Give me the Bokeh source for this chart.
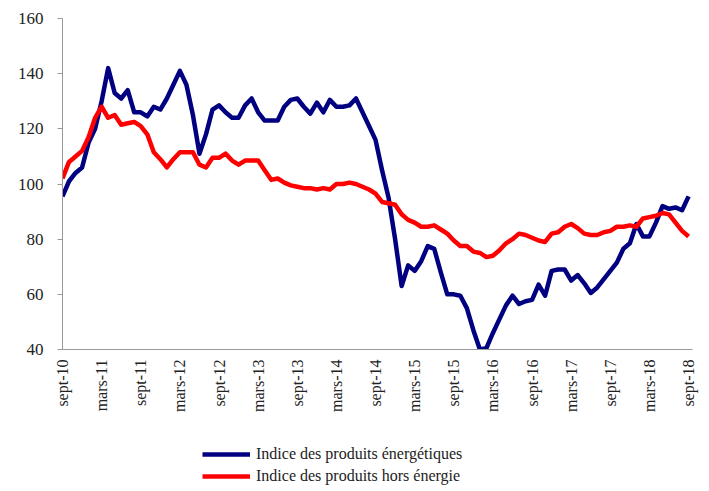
import math
from bokeh.plotting import figure
from bokeh.models import Range1d, FixedTicker, Legend, LegendItem
from bokeh.layouts import column
from bokeh.embed import file_html
from bokeh.resources import INLINE

# Monthly observations, sept-10 .. sept-18
energie = [95.5, 101, 104, 106, 115, 120, 130, 142, 133, 131, 134, 126, 126, 124.5, 128, 127,
           131, 136, 141, 136, 125, 111, 118, 127, 128.5, 126, 124, 124, 128.5, 131, 126, 123,
           123, 123, 128, 130.5, 131, 128, 125.5, 129.5, 126, 130.5, 128, 128, 128.5, 131, 126, 121,
           116, 105, 95, 80, 63, 70.5, 68.5, 72, 77.5, 76.5, 68, 60, 60, 59.5, 55, 47,
           40, 40.5, 46, 51, 56, 59.5, 56.5, 57.5, 58, 63.5, 59.5, 68.5, 69, 69, 65, 67,
           64, 60.5, 62.5, 65.5, 68.5, 71.5, 76.5, 78.5, 85.5, 81, 81, 86, 92, 91, 91.5, 90.5, 95.5]
hors_energie = [102, 108, 110, 112, 117, 124, 128, 124, 125, 121.5, 122, 122.5, 121, 118, 111.5, 109,
                106, 109, 111.5, 111.5, 111.5, 107, 106, 109.5, 109.5, 111, 108.5, 107, 108.5, 108.5, 108.5, 105,
                101.5, 102, 100.5, 99.5, 99, 98.5, 98.5, 98, 98.5, 98, 100, 100, 100.5, 100, 99, 98,
                96.5, 93.5, 93, 92.5, 89, 87, 86, 84.5, 84.5, 85, 83.5, 82, 79.5, 77.5, 77.5, 75.5,
                75, 73.5, 74, 76, 78.5, 80, 82, 81.5, 80.5, 79.5, 79, 82, 82.5, 84.5, 85.5, 84,
                82, 81.5, 81.5, 82.5, 83, 84.5, 84.5, 85, 84.5, 87.5, 88, 88.5, 89.5, 89, 86, 83, 81]
tick_labels = ["sept-10", "mars-11", "sept-11", "mars-12", "sept-12", "mars-13", "sept-13",
               "mars-14", "sept-14", "mars-15", "sept-15", "mars-16", "sept-16", "mars-17",
               "sept-17", "mars-18", "sept-18"]
y_ticks = [40, 60, 80, 100, 120, 140, 160]
series_names = ["Indice des produits énergétiques", "Indice des produits hors énergie"]
colors = ["#000080", "#FF0000"]

months = list(range(len(energie)))
FONT = "Liberation Serif"

p = figure(width=705, height=428, output_backend="svg", toolbar_location=None,
           x_range=Range1d(0, 96.6), y_range=Range1d(40, 160),
           min_border_left=62, min_border_right=13, min_border_top=18, min_border_bottom=79)
p.outline_line_color = None
p.xgrid.visible = False
p.ygrid.visible = False
p.background_fill_color = "white"
p.border_fill_color = "white"

p.line(months, energie, line_color=colors[0], line_width=4.5, line_join="round")
p.line(months, hors_energie, line_color=colors[1], line_width=4.5, line_join="round")

xt = [6 * i for i in range(len(tick_labels))]
p.xaxis.ticker = FixedTicker(ticks=xt)
p.xaxis.major_label_overrides = {t: l for t, l in zip(xt, tick_labels)}
p.xaxis.major_label_orientation = math.pi / 2
p.xaxis.major_tick_out = 0
p.xaxis.major_tick_in = 0
p.xaxis.minor_tick_line_color = None
p.xaxis.axis_line_color = "#999999"
p.xaxis.major_label_text_font = FONT
p.xaxis.major_label_text_font_size = "16px"
p.xaxis.major_label_text_color = "#222222"
p.xaxis.major_label_standoff = 10

p.yaxis.ticker = FixedTicker(ticks=y_ticks)
p.yaxis.major_tick_out = 5
p.yaxis.major_tick_in = 0
p.yaxis.minor_tick_line_color = None
p.yaxis.axis_line_color = "#999999"
p.yaxis.major_tick_line_color = "#999999"
p.yaxis.major_label_text_font = FONT
p.yaxis.major_label_text_font_size = "17px"
p.yaxis.major_label_text_color = "#222222"
p.yaxis.major_label_standoff = 14

# Legend panel below the chart (legend-only renderers sit outside the visible range)
pl = figure(width=705, height=59, output_backend="svg", toolbar_location=None,
            x_range=Range1d(0, 1), y_range=Range1d(0, 1),
            x_axis_location=None, y_axis_location=None,
            min_border_left=0, min_border_right=0, min_border_top=0, min_border_bottom=0)
pl.grid.visible = False
pl.outline_line_color = None
l1 = pl.line([-5, -4], [-5, -5], line_color=colors[0], line_width=4.5)
l2 = pl.line([-5, -4], [-5, -5], line_color=colors[1], line_width=4.5)
legend = Legend(items=[LegendItem(label=series_names[0], renderers=[l1]),
                       LegendItem(label=series_names[1], renderers=[l2])],
                location=(140, 1), orientation="vertical")
legend.border_line_color = None
legend.background_fill_alpha = 0
legend.label_text_font = FONT
legend.label_text_font_size = "16px"
legend.label_text_color = "#222222"
legend.glyph_width = 48
legend.glyph_height = 20
legend.label_height = 20
legend.spacing = 2
legend.padding = 0
legend.margin = 0
legend.label_standoff = 6
pl.add_layout(legend, "center")

open("out.html", "w").write(file_html(column(p, pl, spacing=0), INLINE))
